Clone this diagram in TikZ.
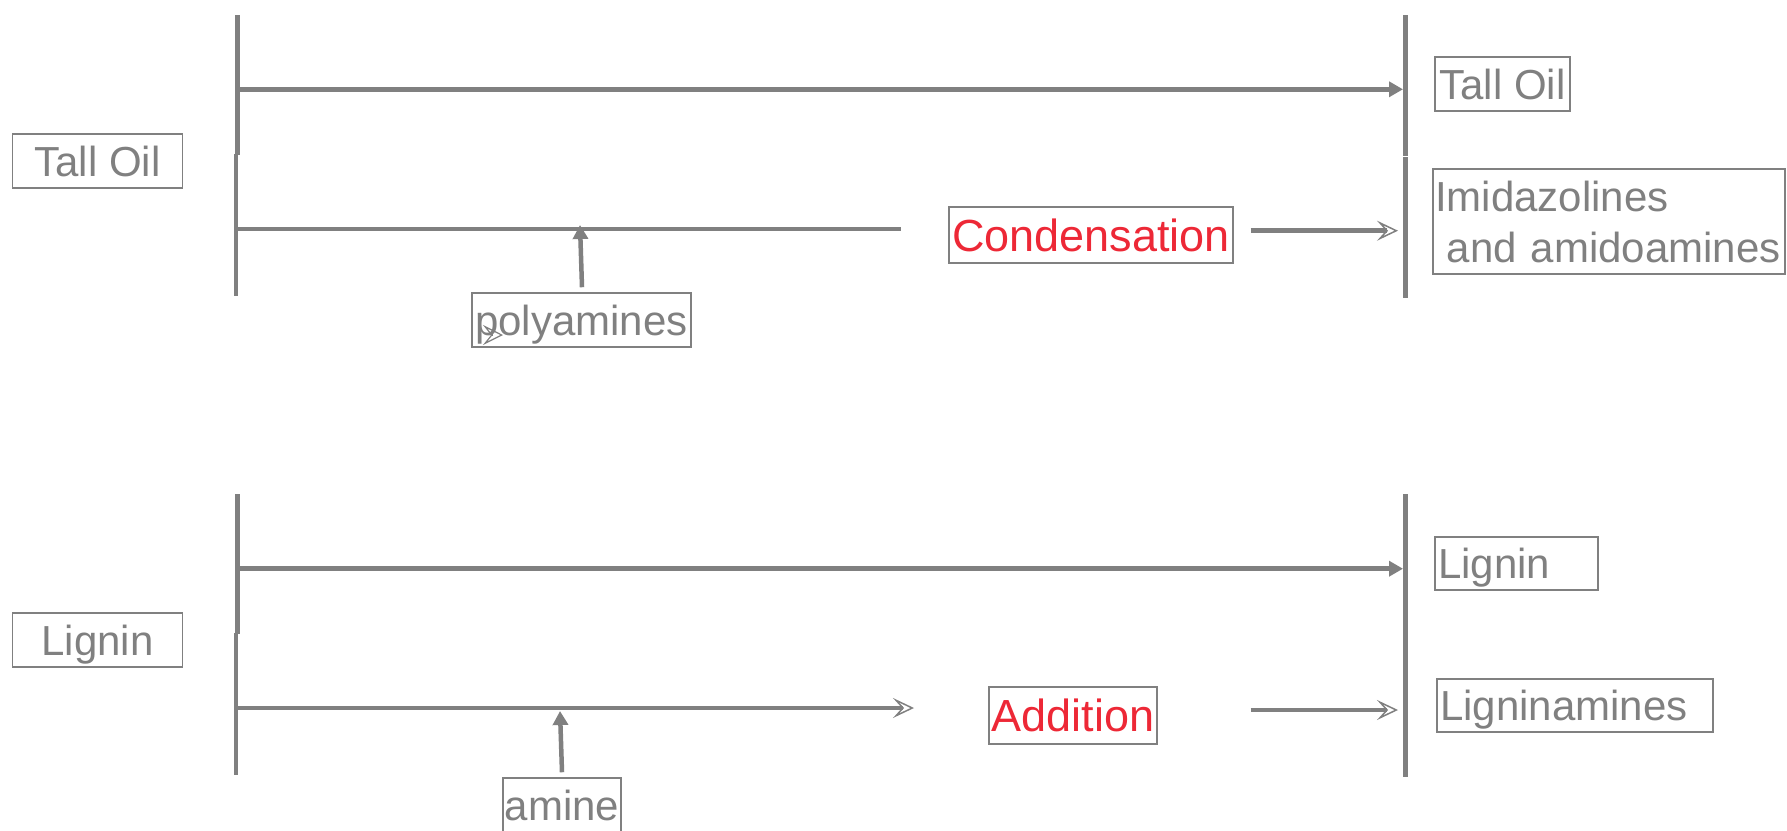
\documentclass[tikz,border=0pt]{standalone}
\usepackage{fontspec}
\setmainfont{Liberation Sans}
\usetikzlibrary{arrows.meta}
\definecolor{lgrey}{RGB}{128,128,128}
\definecolor{lred}{RGB}{237,40,54}
\begin{document}
\begin{tikzpicture}[x=1pt,y=-1pt,
  bar/.style={draw=lgrey,line width=4.5pt},
  flow/.style={draw=lgrey,line width=4.5pt},
  filledtip/.style={-{Triangle[length=14pt,width=15pt]}},
  opentip/.style={-{Stealth[open,length=21pt,width=20pt,inset=9pt,line width=1.5pt]}},
  boxbase/.style={draw=lgrey,line width=1.5pt,inner sep=0pt,text=lgrey,font=\fontsize{42}{51}\selectfont},
  box/.style={boxbase,text height=30pt,text depth=0pt},
  redbox/.style={boxbase,text=lred,font=\fontsize{45}{52}\selectfont,text height=32pt,text depth=0pt},
]
\useasboundingbox (0,0) rectangle (1787,830);

% ---------- nodes, top ----------
\node[box,minimum width=170pt,minimum height=54pt] (tallL) at (97.5,161) {Tall Oil};
\node[box,minimum width=135pt,minimum height=54pt] (tallR) at (1502.5,84) {Tall Oil};
\node[boxbase,minimum width=352pt,minimum height=105pt,inner xsep=2pt,text width=348pt,align=left] (imid) at (1609,221.5) {Imidazolines\\\hspace*{.278em}and amidoamines};
\node[redbox,minimum width=284pt,minimum height=56pt] (cond) at (1091,235) {Condensation};
\node[box,text depth=-2pt,minimum width=219pt,minimum height=54pt] (poly) at (581.5,320) {polyamines};

% ---------- nodes, bottom ----------
\node[box,minimum width=170pt,minimum height=54pt] (ligL) at (97.5,640) {Lignin};
\node[box,minimum width=163pt,minimum height=53pt,inner xsep=3pt,text width=157pt,align=left] (ligR) at (1516.5,563.5) {Lignin};
\node[box,minimum width=276pt,minimum height=53pt,inner xsep=3pt,text width=270pt,align=left] (ligam) at (1575,705.5) {Ligninamines};
\node[redbox,minimum width=168pt,minimum height=57pt] (add) at (1073,715.5) {Addition};
\node[box,minimum width=118pt,minimum height=54pt] (amine) at (562,805) {amine};

% ---------- coordinates, top ----------
\coordinate (tl1a) at (237.5,15);   \coordinate (tl1b) at (237.5,155);
\coordinate (tl2a) at (236,154);    \coordinate (tl2b) at (236,296);
\coordinate (tr1a) at (1405.5,15);  \coordinate (tr1b) at (1405.5,156);
\coordinate (tr2a) at (1405.5,157); \coordinate (tr2b) at (1405.5,298);
\coordinate (th1s) at (237.5,89.3); \coordinate (th1e) at (1403,89.3);
\coordinate (th2s) at (236,229);    \coordinate (th2e) at (901,229);
\coordinate (tcs) at (1250.7,230.7); \coordinate (tce) at (1398,230.7);
\coordinate (tup) at (580,225);
\coordinate (stra) at (493,335);    \coordinate (strb) at (503,335);

% ---------- coordinates, bottom ----------
\coordinate (bl1a) at (237.5,494);  \coordinate (bl1b) at (237.5,634);
\coordinate (bl2a) at (236,633);    \coordinate (bl2b) at (236,775);
\coordinate (br1a) at (1405.5,494); \coordinate (br1b) at (1405.5,635);
\coordinate (br2a) at (1405.5,635); \coordinate (br2b) at (1405.5,777);
\coordinate (bh1s) at (237.5,568.7); \coordinate (bh1e) at (1403,568.7);
\coordinate (bh2s) at (236,708);    \coordinate (bh2e) at (914,708);
\coordinate (bcs) at (1250.7,710);  \coordinate (bce) at (1398,710);
\coordinate (bup) at (560,711);

% ---------- bars ----------
\draw[bar] (tl1a) -- (tl1b);
\draw[bar] (tl2a) -- (tl2b);
\draw[bar] (tr1a) -- (tr1b);
\draw[bar] (tr2a) -- (tr2b);
\draw[bar] (bl1a) -- (bl1b);
\draw[bar] (bl2a) -- (bl2b);
\draw[bar] (br1a) -- (br1b);
\draw[bar] (br2a) -- (br2b);

% ---------- connectors, top ----------
\draw[flow,filledtip] (th1s) -- (th1e);
\draw[flow] (th2s) -- (th2e);
\draw[flow,opentip] (tcs) -- (tce);
\draw[flow,filledtip] ([xshift=0.5pt,yshift=5pt]poly.north) -- (tup);
\draw[draw=lgrey,line width=1.2pt,-{Stealth[open,length=20pt,width=20pt,inset=8pt]}] (stra) -- (strb);

% ---------- connectors, bottom ----------
\draw[flow,filledtip] (bh1s) -- (bh1e);
\draw[flow,opentip] (bh2s) -- (bh2e);
\draw[flow,opentip] (bcs) -- (bce);
\draw[flow,filledtip] ([yshift=5pt]amine.north) -- (bup);
\end{tikzpicture}
\end{document}
